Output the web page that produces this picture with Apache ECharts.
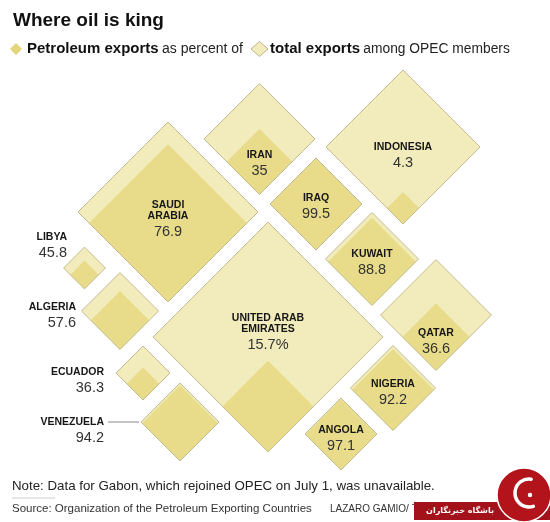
<!DOCTYPE html>
<html><head><meta charset="utf-8">
<script src="https://cdn.jsdelivr.net/npm/echarts@6/dist/echarts.min.js"></script>
<style>html,body{margin:0;padding:0;background:#fff}#c{width:550px;height:522px}</style>
</head><body><div id="c"></div>
<script>
// ---- data ----
const countries = ['Saudi Arabia','Iran','Indonesia','Iraq','Kuwait','Qatar','Nigeria','Angola','United Arab Emirates','Libya','Algeria','Ecuador','Venezuela'];
const labelNames = [['SAUDI','ARABIA'],['IRAN'],['INDONESIA'],['IRAQ'],['KUWAIT'],['QATAR'],['NIGERIA'],['ANGOLA'],['UNITED ARAB','EMIRATES'],['LIBYA'],['ALGERIA'],['ECUADOR'],['VENEZUELA']];
const petroleumPct = [76.9, 35, 4.3, 99.5, 88.8, 36.6, 92.2, 97.1, 15.7, 45.8, 57.6, 36.3, 94.2];
const valueLabels = ['76.9','35','4.3','99.5','88.8','36.6','92.2','97.1','15.7%','45.8','57.6','36.3','94.2'];
// total exports, relative (Saudi Arabia = 100), read from diamond areas
const totalExportsRel = [100, 38, 73.2, 26.1, 26.7, 38, 22.3, 16, 163, 5.4, 18.3, 9, 18.8];

// ---- layout (chart coordinates) ----
const centerX = [168, 259.5, 403, 316, 372, 436, 393, 341, 268, 84.5, 120, 143, 180];
const centerY = [212, 139, 147, 204, 259, 315, 388, 434, 337, 268, 311, 373, 422];
const labelX  = [168, 259.5, 403, 316, 372, 436, 393, 341, 268, 67, 76, 104, 104];
const labelY  = [205, 155, 147, 198, 254, 333, 384, 430, 318, 237, 307, 372, 422];
const labelAlign = ['center','center','center','center','center','center','center','center','center','right','right','right','right'];
const hasLeader = [0,0,0,0,0,0,0,0,0,0,0,0,1];

const BASE_R = 90;
const OUTER = '#f2ecbc', INNER = '#e8dc8b', BORDER = '#c3ba8e';
const FONT = 'Liberation Sans, Arial, sans-serif';

const chart = echarts.init(document.getElementById('c'));
chart.setOption({
  animation: false,
  grid: {left: 0, right: 0, top: 0, bottom: 0},
  xAxis: {type: 'value', min: 0, max: 550, show: false},
  yAxis: {type: 'value', min: 0, max: 522, inverse: true, show: false},
  series: [{
    type: 'custom',
    coordinateSystem: 'cartesian2d',
    data: countries.map((_, i) => [centerX[i], centerY[i], i]),
    renderItem: function (params, api) {
      const i = api.value(2);
      const c = api.coord([api.value(0), api.value(1)]);
      const rd = BASE_R * Math.sqrt(totalExportsRel[i] / 100);
      const r = api.size([rd, rd])[0];
      const ri = r * Math.sqrt(petroleumPct[i] / 100);
      const b = c[1] + r;
      const outerPts = [[c[0], c[1] - r], [c[0] + r, c[1]], [c[0], c[1] + r], [c[0] - r, c[1]]];
      const innerPts = [[c[0], b - 2 * ri], [c[0] + ri, b - ri], [c[0], b], [c[0] - ri, b - ri]];
      const lp = api.coord([labelX[i], labelY[i]]);
      const al = labelAlign[i];
      const txt = labelNames[i].map(s => '{n|' + s + '}').join('\n') + '\n{v|' + valueLabels[i] + '}';
      const children = [
        {type: 'polygon', shape: {points: outerPts}, style: {fill: OUTER}},
        {type: 'polygon', shape: {points: innerPts}, style: {fill: INNER}},
        {type: 'polygon', shape: {points: outerPts}, style: {fill: 'none', stroke: BORDER, lineWidth: 1}},
        {type: 'text', x: lp[0], y: lp[1] - 5.5, style: {
          text: txt, align: al, verticalAlign: 'top',
          rich: {
            n: {font: 'bold 10.5px ' + FONT, fill: '#161616', lineHeight: 11, align: al},
            v: {font: '14.5px ' + FONT, fill: '#333', lineHeight: 20, align: al}
          }
        }}
      ];
      if (hasLeader[i]) {
        children.push({type: 'line', shape: {x1: lp[0] + 4, y1: lp[1], x2: c[0] - r - 2, y2: lp[1]}, style: {stroke: '#888', lineWidth: 1}});
      }
      return {type: 'group', children: children};
    }
  }],
  graphic: [
    {type: 'text', x: 13, y: 21, style: {text: 'Where oil is king', font: 'bold 19px ' + FONT, fill: '#111', verticalAlign: 'middle'}},
    {type: 'polygon', shape: {points: [[16, 43], [22, 49], [16, 55], [10, 49]]}, style: {fill: '#e3d67a'}},
    {type: 'text', x: 27, y: 49, style: {
      text: '{b|Petroleum exports} {r|as percent of}', verticalAlign: 'middle',
      rich: {b: {font: 'bold 15px ' + FONT, fill: '#111'}, r: {font: '14px ' + FONT, fill: '#222'}}
    }},
    {type: 'polygon', shape: {points: [[259.5, 41.5], [268, 49], [259.5, 56.5], [251, 49]]}, style: {fill: '#f2ecbc', stroke: '#bdb48a', lineWidth: 1}},
    {type: 'text', x: 270, y: 49, style: {
      text: '{b|total exports} {r|among OPEC members}', verticalAlign: 'middle',
      rich: {b: {font: 'bold 15px ' + FONT, fill: '#111'}, r: {font: '13.8px ' + FONT, fill: '#222'}}
    }},
    {type: 'text', x: 12, y: 486, style: {text: 'Note: Data for Gabon, which rejoined OPEC on July 1, was unavailable.', font: '13.3px ' + FONT, fill: '#222', verticalAlign: 'middle'}},
    {type: 'line', shape: {x1: 12, y1: 498, x2: 55, y2: 498}, style: {stroke: '#ccc', lineWidth: 1}},
    {type: 'text', x: 12, y: 509, style: {text: 'Source: Organization of the Petroleum Exporting Countries', font: '11.5px ' + FONT, fill: '#333', verticalAlign: 'middle'}},
    {type: 'text', x: 330, y: 509, style: {text: 'LAZARO GAMIO/ THE WASHINGTON POST', font: '10px ' + FONT, fill: '#333', verticalAlign: 'middle'}},
    {type: 'rect', shape: {x: 414, y: 502, width: 136, height: 18}, style: {fill: '#a3121a'}},
    {type: 'text', x: 460, y: 511, style: {text: 'باشگاه خبرنگاران', font: 'bold 8px DejaVu Sans, sans-serif', fill: '#fff', align: 'center', verticalAlign: 'middle'}},
    {type: 'circle', shape: {cx: 524, cy: 495, r: 27}, style: {fill: '#b3141c', stroke: '#fff', lineWidth: 1.5}},
    {type: 'arc', shape: {cx: 529, cy: 493, r: 14, startAngle: -Math.PI * 0.45, endAngle: Math.PI * 0.4, clockwise: false}, style: {stroke: '#fff', lineWidth: 3.5, fill: 'none', lineCap: 'round'}},
    {type: 'circle', shape: {cx: 530, cy: 495, r: 2.2}, style: {fill: '#fff'}}
  ]
});
</script></body></html>
